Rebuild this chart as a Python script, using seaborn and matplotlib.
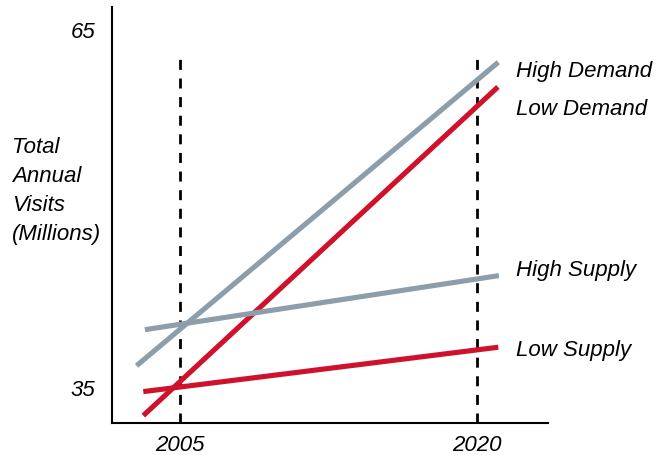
import matplotlib
matplotlib.use("Agg")
import matplotlib.pyplot as plt
import seaborn as sns
import pandas as pd

# Scenario endpoints (year, total annual visits in millions)
years_start = [2002.81, 2003.15, 2003.23, 2003.15]
years_end = [2021.08, 2021.06, 2021.11, 2021.08]
series = ["High Demand", "Low Demand", "High Supply", "Low Supply"]
visits_start = [36.78, 32.60, 39.80, 34.61]
visits_end = [62.21, 60.14, 44.33, 38.33]
label_y = [61.04, 57.85, 44.36, 37.71]
marker_years = [2005, 2020]
y_ticks = [35, 65]

sns.set_style("white")
plt.rcParams["font.family"] = ["Liberation Sans", "DejaVu Sans"]
plt.rcParams["text.color"] = "black"
plt.rcParams["xtick.color"] = "black"
plt.rcParams["ytick.color"] = "black"

rows = []
for name, x0, x1, v0, v1 in zip(series, years_start, years_end, visits_start, visits_end):
    rows.append({"series": name, "year": x0, "visits": v0})
    rows.append({"series": name, "year": x1, "visits": v1})
df = pd.DataFrame(rows)

palette = {"High Demand": "#8c9eab", "Low Demand": "#d0112b",
           "High Supply": "#8c9eab", "Low Supply": "#d0112b"}

fig = plt.figure(figsize=(6.65, 4.56), dpi=100)
ax = fig.add_axes([112 / 665, 32 / 456, 436 / 665, 416 / 456])

# Vertical reference markers at the two milestone years
for yr in marker_years:
    ax.plot([yr, yr], [31.98, 62.49], color="black", lw=2.0,
            dashes=(3.6, 3.1), zorder=1)

sns.lineplot(data=df, x="year", y="visits", hue="series", palette=palette,
             linewidth=3.7, legend=False, ax=ax, zorder=3,
             solid_capstyle="butt")

for name, ly in zip(series, label_y):
    ax.text(2021.97, ly, name, fontsize=16, style="italic", va="baseline",
            ha="left", clip_on=False)

ax.set_xlim(2001.57, 2023.59)
ax.set_ylim(31.98, 66.84)
ax.set_xticks(marker_years)
ax.set_xticklabels([str(y) for y in marker_years], fontsize=16, style="italic")
ax.set_yticks(y_ticks)
ax.set_yticklabels([str(v) for v in y_ticks], fontsize=16, style="italic")
ax.tick_params(axis="x", length=0, pad=8)
ax.tick_params(axis="y", length=0, pad=12)
ax.set_xlabel("")
ax.set_ylabel("")

for side in ["top", "right"]:
    ax.spines[side].set_visible(False)
for side in ["left", "bottom"]:
    ax.spines[side].set_color("black")
    ax.spines[side].set_linewidth(1.5)

fig.text(12 / 665, 1 - 191 / 456, "Total\nAnnual\nVisits\n(Millions)",
         fontsize=16, style="italic", ha="left", va="center", linespacing=1.48)

fig.savefig("out.png", dpi=100)
